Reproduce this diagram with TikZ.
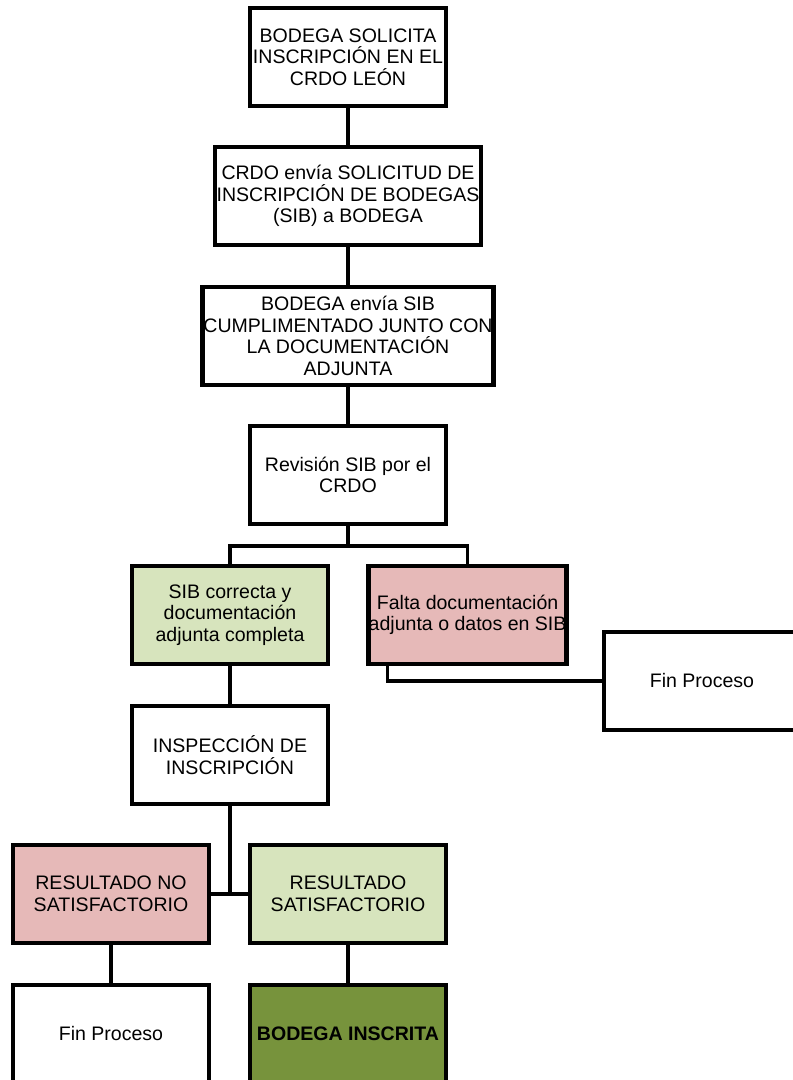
\documentclass[tikz,border=0pt]{standalone}
\usepackage{fontspec}
\setmainfont{Liberation Sans}
\usepackage{tikz}

\definecolor{okgreen}{HTML}{D7E4BD}
\definecolor{failpink}{HTML}{E6B9B8}
\definecolor{donegreen}{HTML}{77933C}

\begin{document}
\begin{tikzpicture}[
	box/.style={shape=rectangle,draw=black,line width=3.2pt,minimum width=4.9cm,minimum height=2.45cm,inner sep=0pt,align=center,font=\fontsize{13.9}{15.4}\selectfont},
	link/.style={-,line width=2.4pt}]
	\useasboundingbox (0,0) rectangle (19.8,27);

	\node[box] (solicita) at (8.7, 25.575)   {BODEGA SOLICITA\\INSCRIPCIÓN EN EL\\CRDO LEÓN};
	\node[box,minimum width=6.65cm] (envia) at (8.7, 22.1)   {CRDO envía SOLICITUD DE\\INSCRIPCIÓN DE BODEGAS\\(SIB) a BODEGA};
	\node[box,minimum width=7.28cm] (adjunta) at (8.7, 18.6) {BODEGA envía SIB\\CUMPLIMENTADO JUNTO CON\\LA DOCUMENTACIÓN\\ADJUNTA};
	\node[box] (revision) at (8.7, 15.125)   {Revisión SIB por el\\CRDO};

	\node[box,fill=okgreen] (correcta) at (5.75, 11.625)  {SIB correcta y\\documentación\\adjunta completa};
	\node[box,fill=failpink] (falta) at (11.69, 11.625)   {Falta documentación\\adjunta o datos en SIB};
	\node[box] (fin1) at (17.55, 9.975)      {Fin Proceso};

	\node[box] (inspeccion) at (5.75, 8.125) {INSPECCIÓN DE\\INSCRIPCIÓN};

	\node[box,fill=failpink] (nosat) at (2.775, 4.65) {RESULTADO NO\\SATISFACTORIO};
	\node[box,fill=okgreen] (sat) at (8.7, 4.65)      {RESULTADO\\SATISFACTORIO};
	\node[box] (fin2) at (2.775, 1.15)                {Fin Proceso};
	\node[box,fill=donegreen,font=\fontsize{13.9}{15.4}\selectfont\bfseries] (inscrita) at (8.7, 1.15) {BODEGA INSCRITA};

	\coordinate (split) at (8.7, 13.35);
	\coordinate (join) at (inspeccion.south |- nosat.east);

	\path[link] (solicita) edge (envia);
	\path[link] (envia) edge (adjunta);
	\path[link] (adjunta) edge (revision);
	\path[link] (revision.south) edge (split);
	\draw[link] (correcta.north) |- (split) -| (falta.north);
	\draw[link] ([xshift=0.53cm]falta.south west) |- (fin1.west);
	\path[link] (correcta) edge (inspeccion);
	\path[link] (inspeccion.south) edge (join);
	\path[link] (nosat.east) edge (sat.west);
	\path[link] (nosat) edge (fin2);
	\path[link] (sat) edge (inscrita);
\end{tikzpicture}
\end{document}
